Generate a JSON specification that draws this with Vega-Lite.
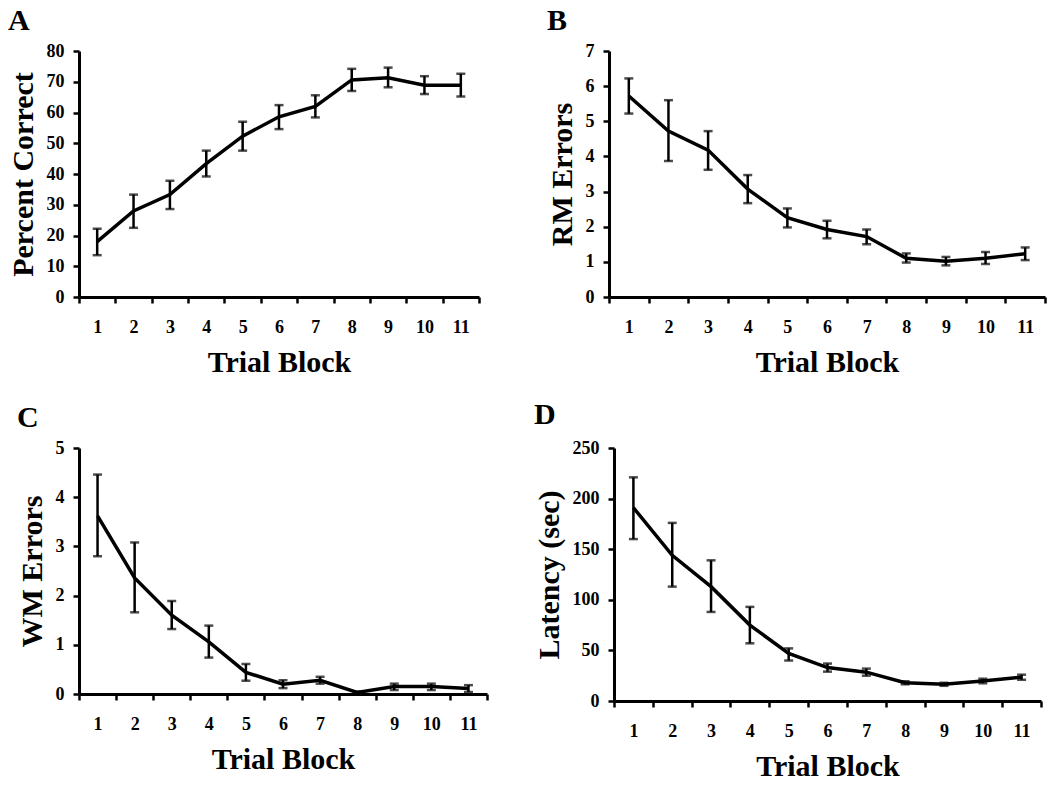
{
  "$schema": "https://vega.github.io/schema/vega-lite/v6.json",
  "background": "white",
  "padding": {"left": 8, "top": 6, "right": 0, "bottom": 0},
  "datasets": {
    "a": [
      {"block": 1, "mean": 18, "lo": 13.6, "hi": 22.2},
      {"block": 2, "mean": 28, "lo": 22.5, "hi": 33.3},
      {"block": 3, "mean": 33.3, "lo": 28.6, "hi": 37.8},
      {"block": 4, "mean": 43.4, "lo": 39.2, "hi": 47.6},
      {"block": 5, "mean": 52.3, "lo": 47.6, "hi": 57},
      {"block": 6, "mean": 58.6, "lo": 54.6, "hi": 62.4},
      {"block": 7, "mean": 62, "lo": 58.4, "hi": 65.6},
      {"block": 8, "mean": 70.6, "lo": 67, "hi": 74.2},
      {"block": 9, "mean": 71.3, "lo": 68.2, "hi": 74.6},
      {"block": 10, "mean": 68.9, "lo": 66, "hi": 71.8},
      {"block": 11, "mean": 68.9, "lo": 65.2, "hi": 72.6}
    ],
    "b": [
      {"block": 1, "mean": 5.72, "lo": 5.22, "hi": 6.22},
      {"block": 2, "mean": 4.72, "lo": 3.87, "hi": 5.6},
      {"block": 3, "mean": 4.18, "lo": 3.62, "hi": 4.72},
      {"block": 4, "mean": 3.07, "lo": 2.67, "hi": 3.47},
      {"block": 5, "mean": 2.26, "lo": 1.98, "hi": 2.52},
      {"block": 6, "mean": 1.92, "lo": 1.67, "hi": 2.17},
      {"block": 7, "mean": 1.72, "lo": 1.5, "hi": 1.92},
      {"block": 8, "mean": 1.1, "lo": 0.98, "hi": 1.24},
      {"block": 9, "mean": 1.02, "lo": 0.9, "hi": 1.14},
      {"block": 10, "mean": 1.1, "lo": 0.94, "hi": 1.28},
      {"block": 11, "mean": 1.23, "lo": 1.05, "hi": 1.41}
    ],
    "c": [
      {"block": 1, "mean": 3.62, "lo": 2.8, "hi": 4.46},
      {"block": 2, "mean": 2.36, "lo": 1.66, "hi": 3.08},
      {"block": 3, "mean": 1.6, "lo": 1.32, "hi": 1.89},
      {"block": 4, "mean": 1.06, "lo": 0.74, "hi": 1.39},
      {"block": 5, "mean": 0.44, "lo": 0.27, "hi": 0.61},
      {"block": 6, "mean": 0.2, "lo": 0.12, "hi": 0.28},
      {"block": 7, "mean": 0.28, "lo": 0.21, "hi": 0.35},
      {"block": 8, "mean": 0.03, "lo": 0.01, "hi": 0.05},
      {"block": 9, "mean": 0.15, "lo": 0.08, "hi": 0.21},
      {"block": 10, "mean": 0.15, "lo": 0.08, "hi": 0.21},
      {"block": 11, "mean": 0.11, "lo": 0.04, "hi": 0.18}
    ],
    "d": [
      {"block": 1, "mean": 191, "lo": 160, "hi": 221},
      {"block": 2, "mean": 144, "lo": 113, "hi": 176},
      {"block": 3, "mean": 113, "lo": 88, "hi": 139},
      {"block": 4, "mean": 75, "lo": 57, "hi": 93},
      {"block": 5, "mean": 47, "lo": 40, "hi": 52},
      {"block": 6, "mean": 33, "lo": 29, "hi": 37},
      {"block": 7, "mean": 28.5, "lo": 25, "hi": 32},
      {"block": 8, "mean": 18, "lo": 16.5, "hi": 19.5},
      {"block": 9, "mean": 16.5, "lo": 15, "hi": 18},
      {"block": 10, "mean": 19.7, "lo": 17.5, "hi": 22},
      {"block": 11, "mean": 23.6, "lo": 21, "hi": 26}
    ]
  },
  "vconcat": [
    {
      "hconcat": [
        {
          "width": 400, "height": 246,
          "title": "A",
          "data": {"name": "a"},
          "encoding": {"x": {"field": "block", "type": "ordinal", "title": "Trial Block", "scale": {"type": "band", "paddingInner": 0, "paddingOuter": 0}}},
          "layer": [
            {"mark": {"type": "rule", "strokeWidth": 2.5, "color": "black"}, "encoding": {"y": {"field": "lo", "type": "quantitative", "title": "Percent Correct", "scale": {"domain": [0, 80]}, "axis": {"values": [0, 10, 20, 30, 40, 50, 60, 70, 80]}}, "y2": {"field": "hi"}}},
            {"mark": {"type": "tick", "size": 9, "thickness": 2.5, "color": "black"}, "encoding": {"y": {"field": "lo", "type": "quantitative", "title": "Percent Correct", "scale": {"domain": [0, 80]}, "axis": {"values": [0, 10, 20, 30, 40, 50, 60, 70, 80]}}}},
            {"mark": {"type": "tick", "size": 9, "thickness": 2.5, "color": "black"}, "encoding": {"y": {"field": "hi", "type": "quantitative", "title": "Percent Correct", "scale": {"domain": [0, 80]}, "axis": {"values": [0, 10, 20, 30, 40, 50, 60, 70, 80]}}}},
            {"mark": {"type": "line", "strokeWidth": 3.5, "color": "black"}, "encoding": {"y": {"field": "mean", "type": "quantitative", "title": "Percent Correct", "scale": {"domain": [0, 80]}, "axis": {"values": [0, 10, 20, 30, 40, 50, 60, 70, 80]}}}}
          ]
        },
        {
          "width": 436, "height": 246,
          "title": "B",
          "data": {"name": "b"},
          "encoding": {"x": {"field": "block", "type": "ordinal", "title": "Trial Block", "scale": {"type": "band", "paddingInner": 0, "paddingOuter": 0}}},
          "layer": [
            {"mark": {"type": "rule", "strokeWidth": 2.5, "color": "black"}, "encoding": {"y": {"field": "lo", "type": "quantitative", "title": "RM Errors", "scale": {"domain": [0, 7]}, "axis": {"values": [0, 1, 2, 3, 4, 5, 6, 7]}}, "y2": {"field": "hi"}}},
            {"mark": {"type": "tick", "size": 9, "thickness": 2.5, "color": "black"}, "encoding": {"y": {"field": "lo", "type": "quantitative", "title": "RM Errors", "scale": {"domain": [0, 7]}, "axis": {"values": [0, 1, 2, 3, 4, 5, 6, 7]}}}},
            {"mark": {"type": "tick", "size": 9, "thickness": 2.5, "color": "black"}, "encoding": {"y": {"field": "hi", "type": "quantitative", "title": "RM Errors", "scale": {"domain": [0, 7]}, "axis": {"values": [0, 1, 2, 3, 4, 5, 6, 7]}}}},
            {"mark": {"type": "line", "strokeWidth": 3.5, "color": "black"}, "encoding": {"y": {"field": "mean", "type": "quantitative", "title": "RM Errors", "scale": {"domain": [0, 7]}, "axis": {"values": [0, 1, 2, 3, 4, 5, 6, 7]}}}}
          ]
        }
      ],
      "spacing": 66,
      "align": "none"
    },
    {
      "hconcat": [
        {
          "width": 408, "height": 246,
          "title": "C",
          "data": {"name": "c"},
          "encoding": {"x": {"field": "block", "type": "ordinal", "title": "Trial Block", "scale": {"type": "band", "paddingInner": 0, "paddingOuter": 0}}},
          "layer": [
            {"mark": {"type": "rule", "strokeWidth": 2.5, "color": "black"}, "encoding": {"y": {"field": "lo", "type": "quantitative", "title": "WM Errors", "scale": {"domain": [0, 5]}, "axis": {"values": [0, 1, 2, 3, 4, 5]}}, "y2": {"field": "hi"}}},
            {"mark": {"type": "tick", "size": 9, "thickness": 2.5, "color": "black"}, "encoding": {"y": {"field": "lo", "type": "quantitative", "title": "WM Errors", "scale": {"domain": [0, 5]}, "axis": {"values": [0, 1, 2, 3, 4, 5]}}}},
            {"mark": {"type": "tick", "size": 9, "thickness": 2.5, "color": "black"}, "encoding": {"y": {"field": "hi", "type": "quantitative", "title": "WM Errors", "scale": {"domain": [0, 5]}, "axis": {"values": [0, 1, 2, 3, 4, 5]}}}},
            {"mark": {"type": "line", "strokeWidth": 3.5, "color": "black"}, "encoding": {"y": {"field": "mean", "type": "quantitative", "title": "WM Errors", "scale": {"domain": [0, 5]}, "axis": {"values": [0, 1, 2, 3, 4, 5]}}}}
          ]
        },
        {
          "width": 427, "height": 253,
          "title": {"text": "D", "offset": 9},
          "data": {"name": "d"},
          "encoding": {"x": {"field": "block", "type": "ordinal", "title": "Trial Block", "scale": {"type": "band", "paddingInner": 0, "paddingOuter": 0}}},
          "layer": [
            {"mark": {"type": "rule", "strokeWidth": 2.5, "color": "black"}, "encoding": {"y": {"field": "lo", "type": "quantitative", "title": "Latency (sec)", "scale": {"domain": [0, 250]}, "axis": {"values": [0, 50, 100, 150, 200, 250]}}, "y2": {"field": "hi"}}},
            {"mark": {"type": "tick", "size": 9, "thickness": 2.5, "color": "black"}, "encoding": {"y": {"field": "lo", "type": "quantitative", "title": "Latency (sec)", "scale": {"domain": [0, 250]}, "axis": {"values": [0, 50, 100, 150, 200, 250]}}}},
            {"mark": {"type": "tick", "size": 9, "thickness": 2.5, "color": "black"}, "encoding": {"y": {"field": "hi", "type": "quantitative", "title": "Latency (sec)", "scale": {"domain": [0, 250]}, "axis": {"values": [0, 50, 100, 150, 200, 250]}}}},
            {"mark": {"type": "line", "strokeWidth": 3.5, "color": "black"}, "encoding": {"y": {"field": "mean", "type": "quantitative", "title": "Latency (sec)", "scale": {"domain": [0, 250]}, "axis": {"values": [0, 50, 100, 150, 200, 250]}}}}
          ]
        }
      ],
      "spacing": 45,
      "align": "none"
    }
  ],
  "spacing": 23,
  "align": "none",
  "config": {
    "font": "Liberation Serif",
    "view": {"stroke": null},
    "axis": {
      "grid": false,
      "domainColor": "black", "domainWidth": 3,
      "tickColor": "black", "tickWidth": 2.5, "tickSize": 6,
      "labelOverlap": false,
      "labelFont": "Liberation Serif", "labelFontWeight": "bold", "labelFontSize": 18, "labelColor": "black",
      "titleFont": "Liberation Serif", "titleFontWeight": "bold", "titleFontSize": 30, "titleColor": "black"
    },
    "axisX": {"labelAngle": 0, "labelPadding": 15, "titlePadding": 11, "tickBand": "extent"},
    "axisY": {"labelPadding": 9, "titlePadding": 8},
    "title": {"font": "Liberation Serif", "fontSize": 30, "fontWeight": "bold", "anchor": "start", "frame": "bounds", "color": "black", "offset": 6}
  }
}
